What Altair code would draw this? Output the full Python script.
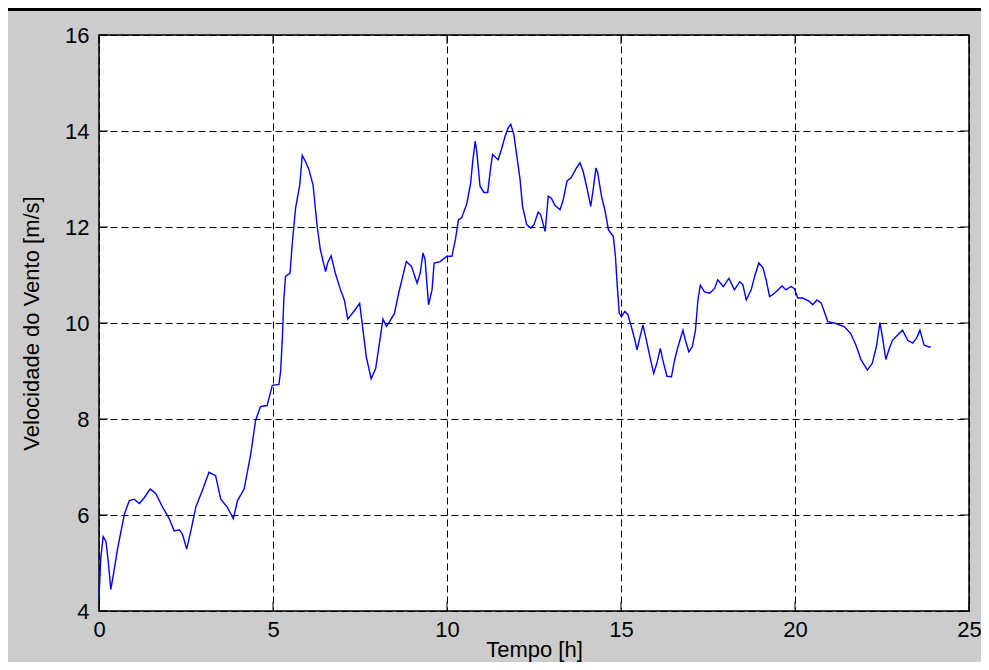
import altair as alt
import pandas as pd

# Wind speed series (hours, m/s)
tempo = [
    0.00, 0.05, 0.12, 0.20, 0.27, 0.34, 0.40, 0.54, 0.73, 0.87,
    1.01, 1.16, 1.30, 1.47, 1.63, 1.83, 2.02, 2.16, 2.31, 2.40,
    2.52, 2.64, 2.78, 2.97, 3.16, 3.35, 3.50, 3.69, 3.86, 3.98,
    4.17, 4.36, 4.50, 4.64, 4.83, 4.98, 5.17, 5.22, 5.27, 5.31,
    5.36, 5.49, 5.55, 5.65, 5.77, 5.84, 5.93, 6.03, 6.15, 6.27,
    6.36, 6.51, 6.57, 6.67, 6.79, 6.94, 7.05, 7.15, 7.32, 7.49,
    7.55, 7.68, 7.82, 7.95, 8.07, 8.16, 8.26, 8.35, 8.49, 8.61,
    8.75, 8.83, 8.98, 9.14, 9.23, 9.31, 9.37, 9.47, 9.57, 9.63,
    9.80, 10.00, 10.14, 10.24, 10.33, 10.42, 10.57, 10.68, 10.74, 10.81,
    10.85, 10.95, 11.06, 11.17, 11.26, 11.31, 11.47, 11.57, 11.67, 11.76,
    11.83, 11.92, 12.02, 12.10, 12.17, 12.29, 12.41, 12.50, 12.62, 12.69,
    12.82, 12.91, 13.00, 13.10, 13.25, 13.34, 13.45, 13.57, 13.72, 13.82,
    13.91, 14.01, 14.13, 14.20, 14.28, 14.33, 14.44, 14.54, 14.64, 14.78,
    14.84, 14.89, 14.95, 15.01, 15.11, 15.20, 15.30, 15.40, 15.46, 15.54,
    15.63, 15.73, 15.83, 15.94, 16.03, 16.13, 16.20, 16.32, 16.45, 16.54,
    16.64, 16.78, 16.85, 16.95, 17.05, 17.14, 17.21, 17.28, 17.40, 17.55,
    17.69, 17.78, 17.94, 18.10, 18.26, 18.41, 18.50, 18.60, 18.74, 18.84,
    18.96, 19.08, 19.17, 19.27, 19.41, 19.55, 19.63, 19.74, 19.88, 19.98,
    20.08, 20.22, 20.41, 20.51, 20.63, 20.75, 20.84, 20.94, 21.18, 21.42,
    21.60, 21.75, 21.90, 22.08, 22.22, 22.34, 22.44, 22.51, 22.61, 22.71,
    22.80, 22.95, 23.09, 23.24, 23.38, 23.49, 23.59, 23.71, 23.85, 23.90,
]
velocidade = [
    4.25, 5.10, 5.55, 5.45, 5.00, 4.45, 4.70, 5.32, 6.02, 6.30,
    6.33, 6.24, 6.36, 6.54, 6.45, 6.16, 5.92, 5.67, 5.69, 5.60,
    5.29, 5.67, 6.16, 6.51, 6.89, 6.82, 6.33, 6.16, 5.92, 6.30,
    6.54, 7.27, 7.97, 8.26, 8.28, 8.70, 8.72, 9.00, 9.71, 10.48,
    10.97, 11.04, 11.63, 12.40, 12.88, 13.49, 13.37, 13.20, 12.88, 12.01,
    11.53, 11.07, 11.25, 11.40, 11.04, 10.69, 10.48, 10.08, 10.24, 10.41,
    10.06, 9.30, 8.84, 9.05, 9.64, 10.08, 9.93, 10.03, 10.20, 10.62,
    11.04, 11.28, 11.18, 10.83, 11.04, 11.46, 11.32, 10.38, 10.69, 11.25,
    11.28, 11.39, 11.39, 11.73, 12.15, 12.19, 12.49, 12.92, 13.37, 13.79,
    13.60, 12.85, 12.72, 12.72, 13.27, 13.51, 13.40, 13.63, 13.89, 14.07,
    14.14, 13.93, 13.41, 12.99, 12.43, 12.05, 11.98, 12.05, 12.31, 12.26,
    11.91, 12.64, 12.60, 12.45, 12.36, 12.57, 12.96, 13.03, 13.23, 13.34,
    13.16, 12.85, 12.43, 12.78, 13.23, 13.13, 12.64, 12.34, 11.94, 11.80,
    11.39, 10.80, 10.20, 10.13, 10.24, 10.17, 9.92, 9.64, 9.44, 9.69,
    9.96, 9.64, 9.30, 8.95, 9.16, 9.47, 9.23, 8.89, 8.88, 9.23,
    9.51, 9.85, 9.64, 9.40, 9.51, 9.85, 10.48, 10.79, 10.65, 10.62,
    10.72, 10.90, 10.76, 10.93, 10.69, 10.86, 10.80, 10.48, 10.69, 10.97,
    11.25, 11.15, 10.90, 10.55, 10.62, 10.72, 10.77, 10.69, 10.76, 10.72,
    10.52, 10.52, 10.45, 10.38, 10.48, 10.42, 10.24, 10.03, 9.99, 9.92,
    9.78, 9.54, 9.23, 9.02, 9.16, 9.51, 10.01, 9.72, 9.24, 9.47,
    9.64, 9.75, 9.85, 9.64, 9.58, 9.68, 9.85, 9.54, 9.50, 9.50,
]
x_ticks = [0, 5, 10, 15, 20, 25]
y_ticks = [4, 6, 8, 10, 12, 14, 16]

W, H = 870, 576
FONT = "Liberation Sans, Arial, sans-serif"

df = pd.DataFrame({"Tempo": tempo, "Vel": velocidade})
xscale = alt.Scale(domain=[0, 25], nice=False, zero=False)
yscale = alt.Scale(domain=[4, 16], nice=False, zero=False)

x_axis = alt.Axis(
    values=x_ticks, grid=True, gridColor="black", gridOpacity=1,
    gridDash=[7, 4], gridWidth=1, domain=False, ticks=False,
    labelFont=FONT, labelFontSize=22, labelColor="black",
    labelPadding=8, labelFlush=False, labelOverlap=False,
    title="Tempo [h]", titleFont=FONT, titleFontSize=22,
    titleFontWeight="normal", titleColor="black",
    titleX=W / 2, titleY=45, titleAlign="center",
    titleBaseline="alphabetic")
y_axis = alt.Axis(
    values=y_ticks, grid=True, gridColor="black", gridOpacity=1,
    gridDash=[7, 4], gridWidth=1, domain=False, ticks=False,
    labelFont=FONT, labelFontSize=22, labelColor="black",
    labelPadding=10, labelOverlap=False,
    title="Velocidade do Vento [m/s]", titleFont=FONT, titleFontSize=22,
    titleFontWeight="normal", titleColor="black",
    titleX=-60.5, titleY=H / 2, titleAngle=270, titleAlign="center",
    titleBaseline="alphabetic")

line = alt.Chart(df).mark_line(color="#0000FF", strokeWidth=1.4).encode(
    x=alt.X("Tempo:Q", scale=xscale, axis=x_axis),
    y=alt.Y("Vel:Q", scale=yscale, axis=y_axis),
)

xt = pd.DataFrame({"Tempo": x_ticks})
yt = pd.DataFrame({"Vel": y_ticks})
TL = 9
tick_bottom = alt.Chart(xt).mark_rule(color="black", strokeWidth=1).encode(
    x=alt.X("Tempo:Q", scale=xscale, axis=x_axis), y=alt.value(H), y2=alt.value(H - TL))
tick_top = alt.Chart(xt).mark_rule(color="black", strokeWidth=1).encode(
    x=alt.X("Tempo:Q", scale=xscale, axis=x_axis), y=alt.value(0), y2=alt.value(TL))
tick_left = alt.Chart(yt).mark_rule(color="black", strokeWidth=1).encode(
    y=alt.Y("Vel:Q", scale=yscale, axis=y_axis), x=alt.value(0), x2=alt.value(TL))
tick_right = alt.Chart(yt).mark_rule(color="black", strokeWidth=1).encode(
    y=alt.Y("Vel:Q", scale=yscale, axis=y_axis), x=alt.value(W), x2=alt.value(W - TL))

top_bar = alt.Chart(pd.DataFrame({"a": [0]})).mark_rule(
    color="black", strokeWidth=3).encode(
    x=alt.value(-91), x2=alt.value(882), y=alt.value(-25.5))

chart = alt.layer(line, tick_bottom, tick_top, tick_left, tick_right, top_bar).properties(
    width=W, height=H,
    autosize=alt.AutoSizeParams(type="none"),
    padding={"left": 91, "top": 27, "right": 12, "bottom": 51},
    background="#CCCCCC",
).configure_view(stroke="black", strokeWidth=1.5, fill="white")

chart.save("out.html", embed_options={"renderer": "svg", "actions": False})
